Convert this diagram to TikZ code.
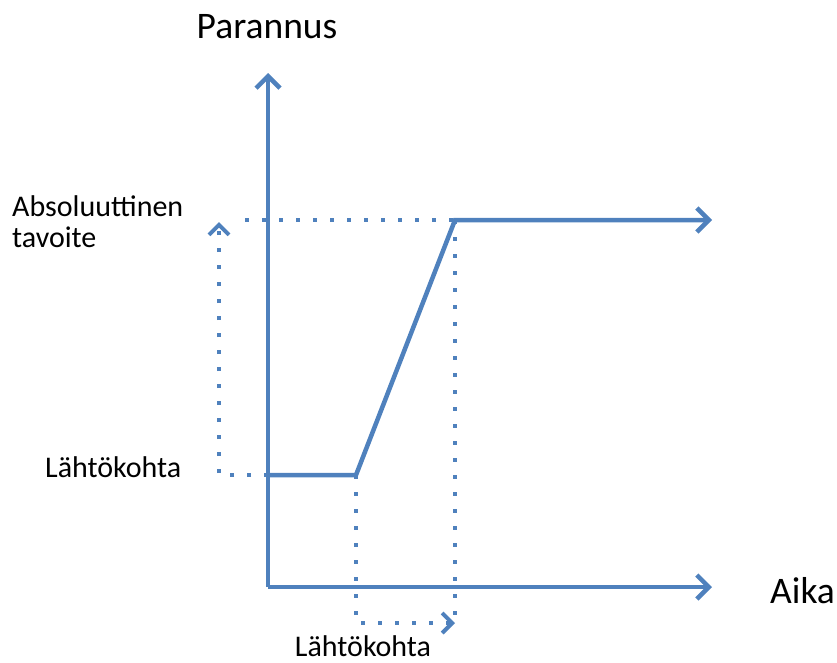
\documentclass[tikz,border=0pt]{standalone}
\usepackage{fontspec}
\setmainfont{Carlito}
\usetikzlibrary{arrows.meta}
\definecolor{lineblue}{RGB}{79,129,189}
\tikzset{
  axis/.style={lineblue, line width=4.5pt, -{Straight Barb[length=12pt,width=24pt]}},
  curve/.style={lineblue, line width=4.5pt, line join=miter},
  guide/.style={lineblue, line width=4pt, dash pattern=on 4pt off 13pt},
  bigtext/.style={font=\fontsize{37.5}{42}\selectfont, inner sep=0pt},
  smalltext/.style={font=\fontsize{30}{32}\selectfont, inner sep=0pt, align=left}
}
\begin{document}
\begin{tikzpicture}[x=1pt, y=-1pt]
\useasboundingbox (0,0) rectangle (837,662);

% points of the graph
\coordinate (origin) at (268,587);
\coordinate (ytip) at (268,73);
\coordinate (xtip) at (712,587);
\coordinate (start) at (268,475);
\coordinate (knee) at (356,475);
\coordinate (goal) at (455,220);
\coordinate (goalend) at (712,220);
\coordinate (goalleft) at (245,220);
\coordinate (leftfoot) at (219,475);
\coordinate (lefttip) at (219,222);
\coordinate (kneefoot) at (356,623);
\coordinate (goalfoot) at (455,623);

% axes
\draw [axis] (origin) -- (ytip);
\draw [axis] (origin) -- (xtip);
\node [bigtext, anchor=base] (yname) at (267,38) {Parannus};
\node [bigtext, anchor=base west] (xname) at (770,603) {Aika};

% guides
\draw [guide] (goalleft) -- (goal);
\draw [guide] (goal) -- (goalfoot);
\draw [guide, -{Straight Barb[length=10pt,width=20pt]}] (start) -- (leftfoot) -- (lefttip);
\draw [guide, -{Straight Barb[length=10pt,width=20pt]}] (knee) -- (kneefoot) -- (goalfoot);

% improvement line
\draw [curve, -{Straight Barb[length=12pt,width=24pt]}] (start) -- (knee) -- (goal) -- (goalend);

\node [smalltext, anchor=base west] (goaltext) at (12,247) {Absoluuttinen\\[-1pt]tavoite};
\node [smalltext, anchor=base west] (starttext) at (45,477) {Lähtökohta};
\node [smalltext, anchor=base] (timetext) at (363,656) {Lähtökohta};
\end{tikzpicture}
\end{document}
